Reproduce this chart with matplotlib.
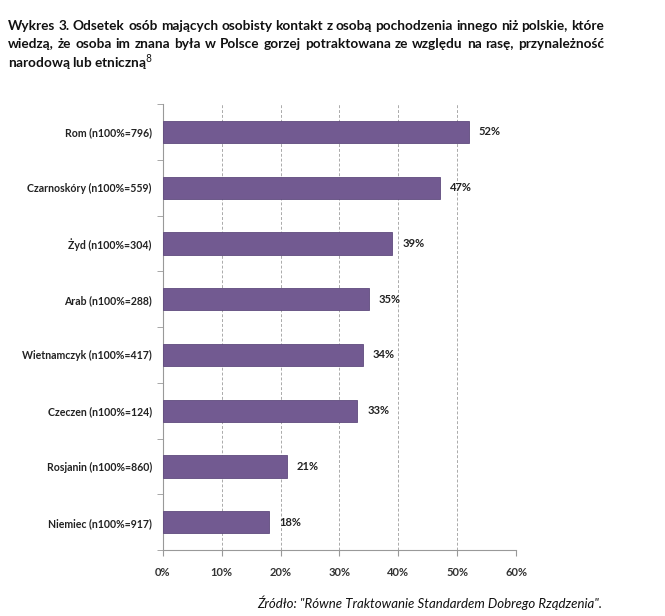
import numpy as np
import matplotlib.pyplot as plt
from matplotlib.ticker import FixedLocator

labels = ['Rom (n100%=796)', 'Czarnoskóry (n100%=559)', 'Żyd (n100%=304)',
          'Arab (n100%=288)', 'Wietnamczyk (n100%=417)', 'Czeczen (n100%=124)',
          'Rosjanin (n100%=860)', 'Niemiec (n100%=917)']
values = [52, 47, 39, 35, 34, 33, 21, 18]
xticks = [0, 10, 20, 30, 40, 50, 60]

title = ['Wykres 3. Odsetek osób mających osobisty kontakt z osobą pochodzenia innego niż polskie, które',
         'wiedzą, że osoba im znana była w Polsce gorzej potraktowana ze względu na rasę, przynależność',
         'narodową lub etniczną$^{8}$']

plt.rcParams['font.family'] = ['Lato', 'DejaVu Sans']

fig = plt.figure(figsize=(6.65, 6.16), dpi=100)
ax = fig.add_axes([0.245, 0.107, 0.531, 0.724])

y = np.arange(len(labels))[::-1]
ax.barh(y, values, height=0.4, color='#725a91', edgecolor='#5f4a7d', linewidth=0.6, zorder=3)
for yi, v in zip(y, values):
    ax.text(v + 1.7, yi, '%d%%' % v, va='center', ha='left', fontsize=8,
            fontweight='bold', color='#222222')

ax.set_xlim(0, 60)
ax.set_ylim(-0.5, len(labels) - 0.5)
ax.set_xticks(xticks)
ax.set_xticklabels(['%d%%' % t for t in xticks], fontsize=8, fontweight='bold', color='#333333')
ax.set_yticks(y)
ax.set_yticklabels(labels, fontsize=7.6, fontweight='bold', color='#222222')
ax.yaxis.set_minor_locator(FixedLocator(np.arange(-0.5, len(labels), 1.0)))
ax.tick_params(axis='y', which='major', length=0, pad=8)
ax.tick_params(axis='y', which='minor', length=4, color='#999999')
ax.tick_params(axis='x', length=4, color='#999999', pad=8)
ax.grid(axis='x', linestyle=(0, (3, 2)), color='#aaaaaa', linewidth=0.7, zorder=0)
for s in ['top', 'right']:
    ax.spines[s].set_visible(False)
for s in ['left', 'bottom']:
    ax.spines[s].set_color('#999999')

# title: first two lines justified between x0 and x1 (pixels)
x0, x1 = 8, 604
ys = [0.958, 0.928, 0.898]
tfont = dict(fontsize=9.8, fontweight='bold', color='#111111', va='center')
renderer = fig.canvas.get_renderer()
W = fig.bbox.width
for i, line in enumerate(title):
    if i == 2:
        fig.text(x0 / W, ys[i], line, **tfont)
        continue
    words = line.split(' ')
    items = [fig.text(0, ys[i], w, **tfont) for w in words]
    widths = [t.get_window_extent(renderer).width for t in items]
    gap = (x1 - x0 - sum(widths)) / (len(words) - 1)
    x = x0
    for t, w in zip(items, widths):
        t.set_x(x / W)
        x += w + gap

fig.text(0.906, 0.022, 'Źródło: "Równe Traktowanie Standardem Dobrego Rządzenia".',
         fontsize=9.5, style='italic', ha='right', va='center', color='#111111')

fig.savefig('out.png', dpi=100)
